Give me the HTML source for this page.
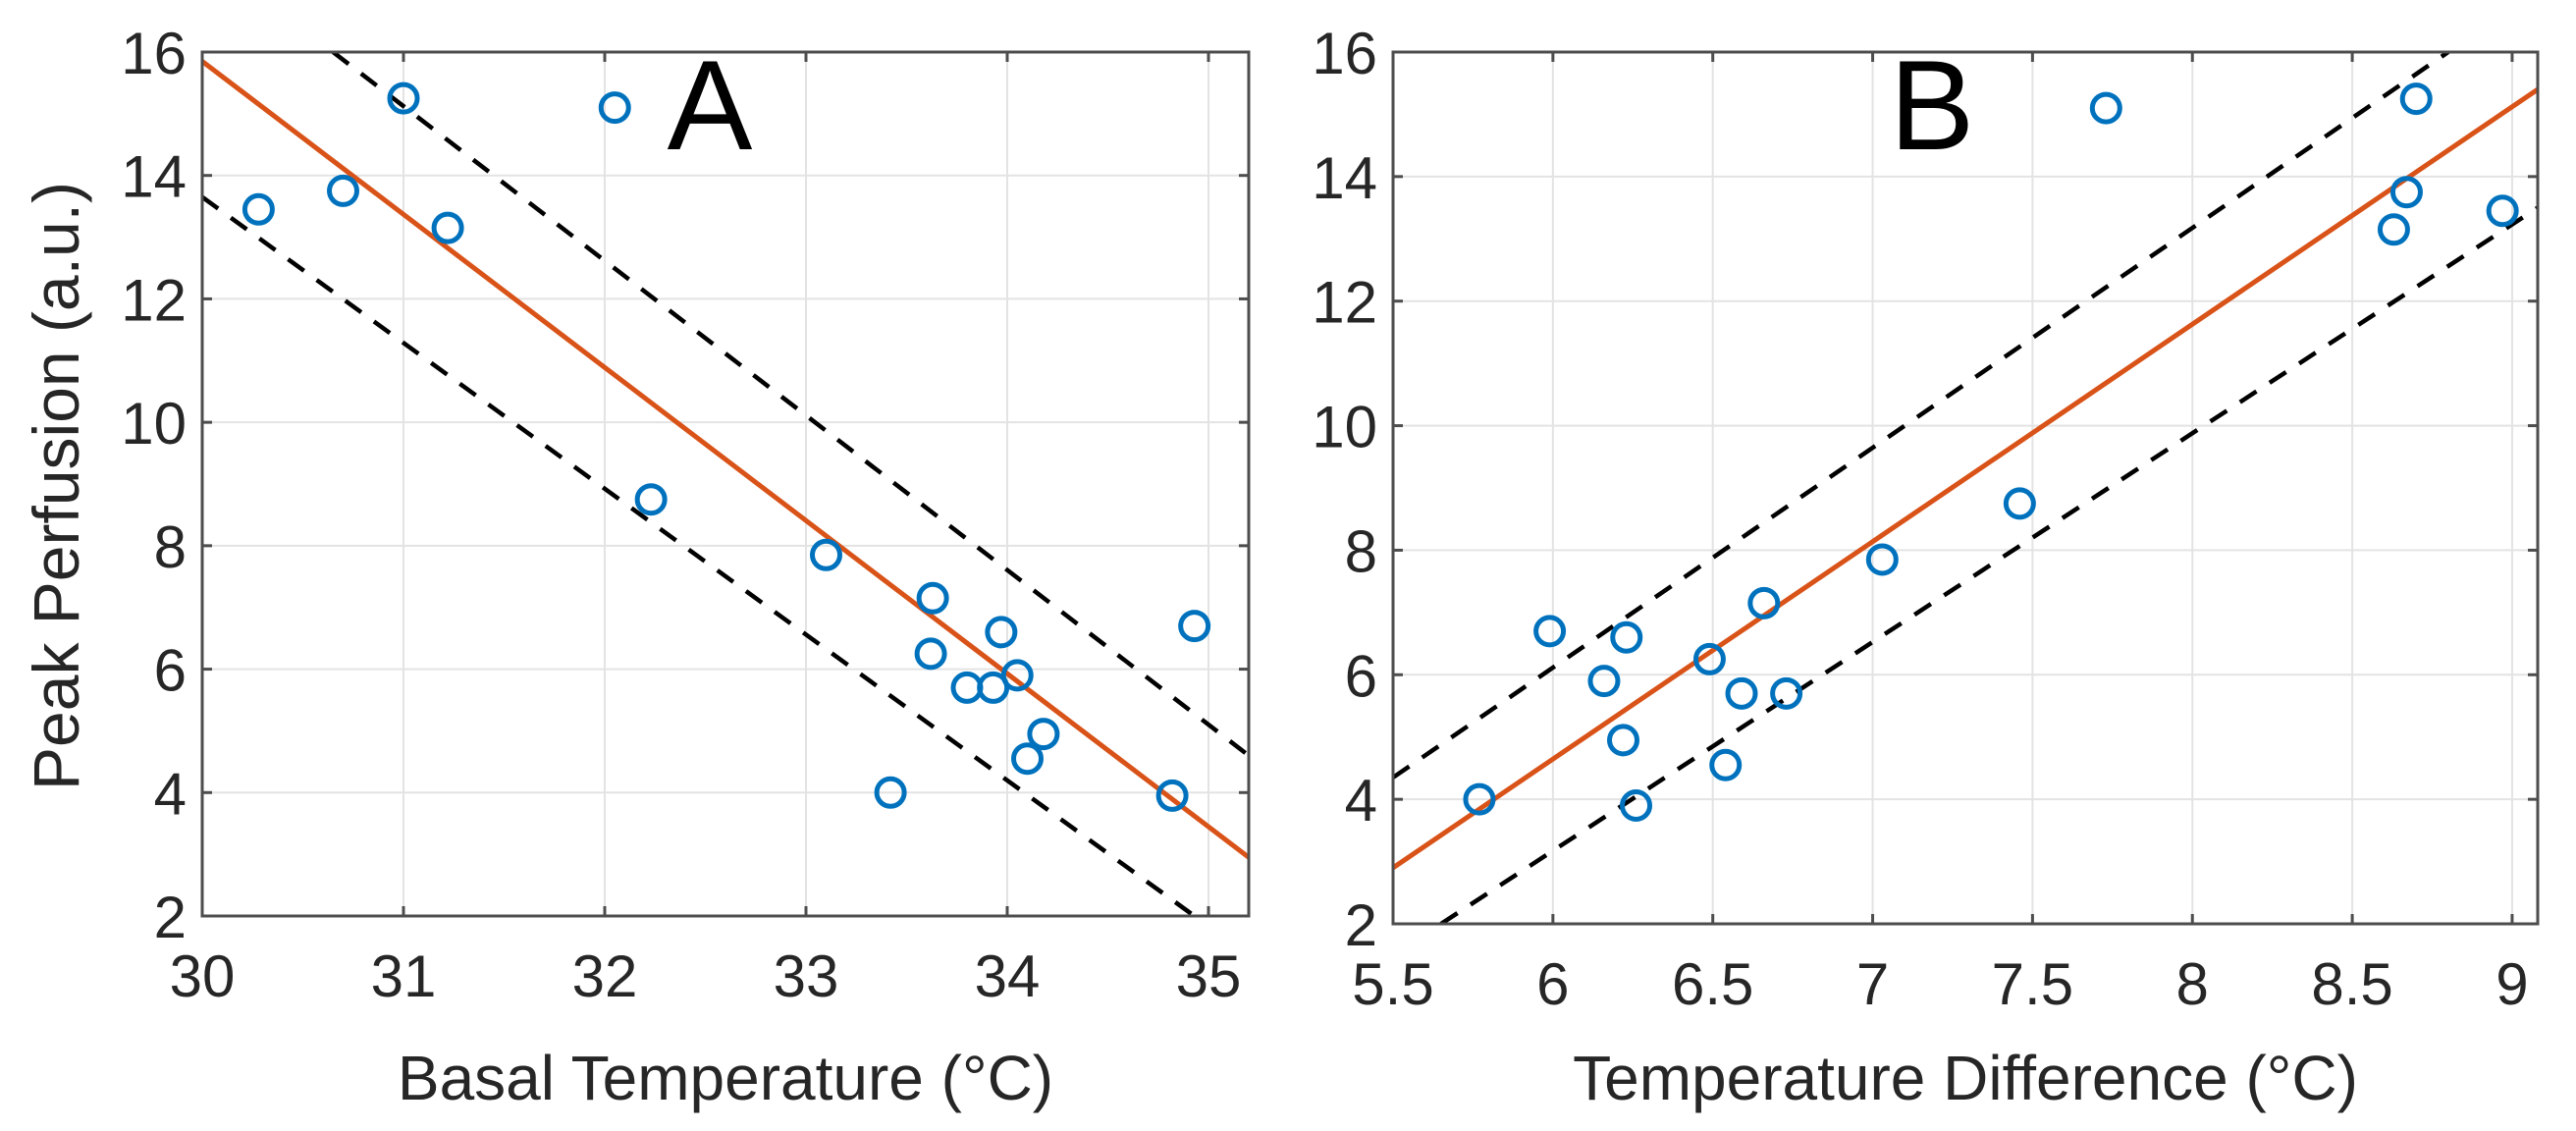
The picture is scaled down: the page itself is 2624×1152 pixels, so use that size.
<!DOCTYPE html>
<html><head><meta charset="utf-8"><style>
html,body{margin:0;padding:0;background:#fff;}
svg{display:block;font-family:"Liberation Sans",Arial,sans-serif;}
</style></head><body>
<svg id="fig" width="2624" height="1152" viewBox="0 0 2624 1152" xmlns="http://www.w3.org/2000/svg"></svg>
<script>
const aX=[30.28,30.7,31.0,31.22,32.05,32.23,33.1,33.42,33.62,33.63,33.8,33.93,33.97,34.05,34.1,34.18,34.82,34.93];
const aY=[13.45,13.75,15.25,13.15,15.1,8.75,7.85,4.0,6.25,7.15,5.7,5.7,6.6,5.9,4.55,4.95,3.95,6.7];
const bX=[5.77,5.99,6.16,6.22,6.23,6.26,6.49,6.54,6.59,6.66,6.73,7.03,7.46,7.73,8.63,8.67,8.7,8.97];
const bY=[4.0,6.7,5.9,4.95,6.6,3.9,6.25,4.55,5.7,7.15,5.7,7.85,8.75,15.1,13.15,13.75,15.25,13.45];
const aFit=[[30,15.85],[35.2,2.95]];
const aUp=[[30.65,16],[35.2,4.6]];
const aLo=[[30,13.65],[34.93,2.0]];
const bFit=[[5.5,2.9],[9.08,15.4]];
const bUp=[[5.5,4.35],[8.8,16]];
const bLo=[[5.65,2.0],[9.08,13.5]];
const aXTicks=[30,31,32,33,34,35];
const bXTicks=[5.5,6,6.5,7,7.5,8,8.5,9];
const yTicks=[2,4,6,8,10,12,14,16];

const svg=document.getElementById('fig');
const NS='http://www.w3.org/2000/svg';
function mk(tag,attrs,parent,text){const e=document.createElementNS(NS,tag);for(const k in attrs)e.setAttribute(k,attrs[k]);if(text!==undefined)e.textContent=text;(parent||svg).appendChild(e);return e;}

function panel(cfg){
  const g=mk('g',{});
  
  
  const sx=v=>cfg.L+(v-cfg.x0)/(cfg.x1-cfg.x0)*(cfg.R-cfg.L);
  const sy=v=>cfg.B-(v-2)/(16-2)*(cfg.B-cfg.T);
  const clipId='clip'+cfg.letter;
  const defs=mk('defs',{},g);
  const cp=mk('clipPath',{id:clipId},defs);
  mk('rect',{x:cfg.L,y:cfg.T,width:cfg.R-cfg.L,height:cfg.B-cfg.T},cp);
  cfg.xt.forEach(v=>{const l=mk('line',{x1:sx(v),x2:sx(v),y1:cfg.T,y2:cfg.B,stroke:'#e3e3e3','stroke-width':2},g);
    });
  yTicks.forEach(v=>{const l=mk('line',{x1:cfg.L,x2:cfg.R,y1:sy(v),y2:sy(v),stroke:'#e3e3e3','stroke-width':2},g);
    });
  const pg=mk('g',{'clip-path':'url(#'+clipId+')'},g);
  const dl=(pts,nm)=>{const l=mk('line',{x1:sx(pts[0][0]),y1:sy(pts[0][1]),x2:sx(pts[1][0]),y2:sy(pts[1][1]),stroke:'#000','stroke-width':4.5,'stroke-dasharray':'20 16'},pg);
    };
  dl(cfg.up,'upper-confidence-bound');dl(cfg.lo,'lower-confidence-bound');
  const f=mk('line',{x1:sx(cfg.fit[0][0]),y1:sy(cfg.fit[0][1]),x2:sx(cfg.fit[1][0]),y2:sy(cfg.fit[1][1]),stroke:'#D95319','stroke-width':5},pg);
  
  cfg.xs.forEach((x,i)=>{const c=mk('circle',{cx:sx(x),cy:sy(cfg.ys[i]),r:14,fill:'none',stroke:'#0072BD','stroke-width':5},g);
    });
  const box=mk('rect',{x:cfg.L,y:cfg.T,width:cfg.R-cfg.L,height:cfg.B-cfg.T,fill:'none',stroke:'#4d4d4d','stroke-width':3},g);
  
  cfg.xt.forEach(v=>{mk('line',{x1:sx(v),x2:sx(v),y1:cfg.B,y2:cfg.B-10,stroke:'#4d4d4d','stroke-width':3},g);
    mk('line',{x1:sx(v),x2:sx(v),y1:cfg.T,y2:cfg.T+10,stroke:'#4d4d4d','stroke-width':3},g);
    const t=mk('text',{x:sx(v),y:cfg.B+82,'text-anchor':'middle','font-size':60,fill:'#262626'},g,String(v));
    });
  yTicks.forEach(v=>{mk('line',{x1:cfg.L,x2:cfg.L+10,y1:sy(v),y2:sy(v),stroke:'#4d4d4d','stroke-width':3},g);
    mk('line',{x1:cfg.R,x2:cfg.R-10,y1:sy(v),y2:sy(v),stroke:'#4d4d4d','stroke-width':3},g);
    const t=mk('text',{x:cfg.L-16,y:sy(v)+22,'text-anchor':'end','font-size':60,fill:'#262626'},g,String(v));
    });
  const xt=mk('text',{x:(cfg.L+cfg.R)/2,y:1120,'text-anchor':'middle','font-size':64,fill:'#262626'},g,cfg.xtitle);
  
  const lt=mk('text',{x:cfg.lx,y:152,'text-anchor':'middle','font-size':130,fill:'#000'},g,cfg.letter);
  
}
panel({name:'panel-a',letter:'A',L:206,R:1272,T:53,B:933,x0:30,x1:35.2,xt:aXTicks,xs:aX,ys:aY,fit:aFit,up:aUp,lo:aLo,xtitle:'Basal Temperature (°C)',lx:723});
panel({name:'panel-b',letter:'B',L:1419,R:2585,T:53,B:941,x0:5.5,x1:9.08,xt:bXTicks,xs:bX,ys:bY,fit:bFit,up:bUp,lo:bLo,xtitle:'Temperature Difference (°C)',lx:1968});
const yt=mk('text',{x:0,y:0,'text-anchor':'middle','font-size':66,fill:'#262626',transform:'translate(80,495) rotate(-90)'},svg,'Peak Perfusion (a.u.)');


</script>
</body></html>
